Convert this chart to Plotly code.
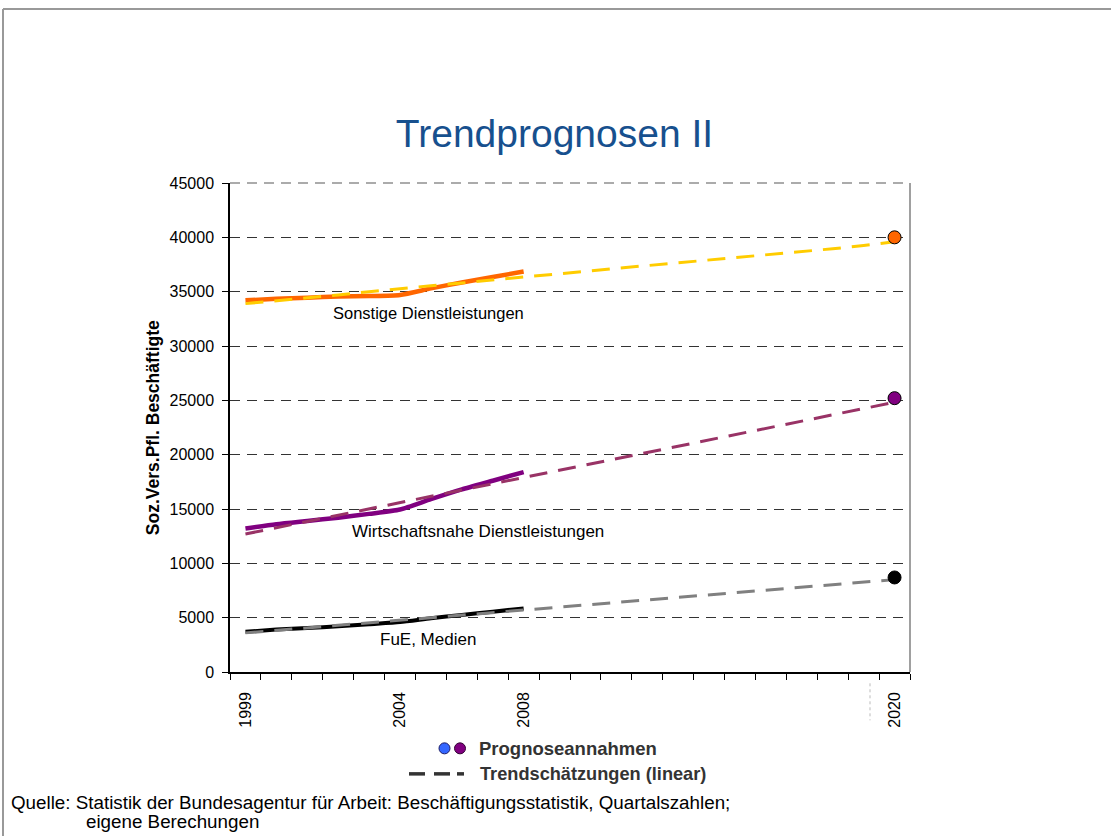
import plotly.graph_objects as go

# ---- data -------------------------------------------------------------
years_actual = [1999, 2000, 2001, 2002, 2003, 2004, 2005, 2006, 2007, 2008]
years_trend = list(range(1999, 2021))
year_forecast = [2020]

sonstige = [34200, 34350, 34450, 34550, 34600, 34700, 35300, 35850, 36350, 36850]
wirtschaft = [13200, 13600, 13900, 14200, 14550, 14950, 15900, 16800, 17600, 18400]
fue = [3700, 3900, 4050, 4200, 4400, 4600, 4950, 5250, 5550, 5850]

sonstige_trend = [33900, 34150, 34450, 34700, 35000, 35300, 35550, 35800, 36100, 36350, 36600,
                  36900, 37150, 37400, 37650, 37900, 38150, 38450, 38700, 38950, 39250, 39600]
wirtschaft_trend = [12700, 13280, 13850, 14430, 15000, 15580, 16160, 16740, 17310, 17890, 18470,
                    19050, 19620, 20200, 20780, 21360, 21930, 22510, 23090, 23670, 24240, 24820]
fue_trend = [3600, 3830, 4070, 4300, 4530, 4770, 5000, 5230, 5470, 5700, 5930,
             6170, 6400, 6630, 6870, 7100, 7330, 7570, 7800, 8030, 8270, 8500]

forecast_sonstige = [40000]
forecast_wirtschaft = [25200]
forecast_fue = [8700]

x_tick_years = [1999, 2004, 2008, 2020]
y_ticks = [0, 5000, 10000, 15000, 20000, 25000, 30000, 35000, 40000, 45000]

# ---- geometry helpers (pixel -> paper) --------------------------------
W, H = 1111, 836
PL, PR, PT, PB = 230, 910, 183, 671.7


def px(x):
    return (x - PL) / (PR - PL)


def py(y):
    return (PB - y) / (PB - PT)


FONT = "Liberation Sans, Arial, sans-serif"

fig = go.Figure()

# actual values (solid)
for ys, col, w in [(sonstige, "#FF6600", 4.5), (wirtschaft, "#800080", 4.5), (fue, "#000000", 4)]:
    fig.add_trace(go.Scatter(x=years_actual, y=ys, mode="lines",
                             line=dict(color=col, width=w, shape="spline", smoothing=0.6),
                             showlegend=False))

# trend lines (dashed), drawn over the actual values
for ys, col in [(sonstige_trend, "#FFCC00"), (wirtschaft_trend, "#993366"), (fue_trend, "#808080")]:
    fig.add_trace(go.Scatter(x=years_trend, y=ys, mode="lines",
                             line=dict(color=col, width=3, dash="18px,11px"),
                             showlegend=False, hoverinfo="skip"))

# forecast assumptions
for ys, col in [(forecast_sonstige, "#FF6600"), (forecast_wirtschaft, "#800080"), (forecast_fue, "#000000")]:
    fig.add_trace(go.Scatter(x=year_forecast, y=ys, mode="markers",
                             marker=dict(color=col, size=13, line=dict(color="#000000", width=1)),
                             showlegend=False))

fig.update_layout(
    width=W, height=H, autosize=False,
    margin=dict(l=PL, r=W - PR, t=PT, b=H - PB, pad=0),
    paper_bgcolor="white", plot_bgcolor="white",
    font=dict(family=FONT, color="#000000"),
    showlegend=False,
    title=dict(text="Trendprognosen II", x=(393 + 716) / 2 / W, xanchor="center",
               y=1 - 133 / H, yanchor="middle",
               font=dict(family=FONT, size=39, color="#17508E")),
)

fig.update_xaxes(
    range=[1998.5, 2020.5], showgrid=False, zeroline=False,
    showline=True, linecolor="#000000", linewidth=1.5,
    tickmode="array", tickvals=x_tick_years, ticktext=[str(v) for v in x_tick_years],
    ticks="", tickangle=-90, ticklabelstandoff=12,
    tickfont=dict(family=FONT, size=16, color="#000000"),
    minor=dict(tickmode="linear", tick0=1998.5, dtick=1, ticks="outside",
               ticklen=6, tickwidth=1, tickcolor="#000000", showgrid=False),
)

fig.update_yaxes(
    range=[0, 45000], tickvals=y_ticks, ticktext=[str(v) for v in y_ticks],
    showgrid=True, gridcolor="#333333", gridwidth=1, griddash="10px,7px",
    zeroline=False, showline=True, linecolor="#000000", linewidth=1.5,
    ticks="outside", ticklen=6, tickcolor="#000000", ticklabelstandoff=5,
    tickfont=dict(family=FONT, size=16, color="#000000"),
)

shapes = [
    # outer frame
    dict(type="line", xref="paper", yref="paper", x0=px(3), x1=px(W + 5), y0=py(9), y1=py(9),
         line=dict(color="#999999", width=2)),
    dict(type="line", xref="paper", yref="paper", x0=px(3), x1=px(3), y0=py(9), y1=py(H + 5),
         line=dict(color="#999999", width=2)),
    # top and right border of the plot area
    dict(type="line", xref="paper", yref="paper", x0=0, x1=1, y0=1, y1=1,
         line=dict(color="#909090", width=1.5, dash="10px,7px")),
    dict(type="line", xref="paper", yref="paper", x0=1, x1=1, y0=0, y1=1,
         line=dict(color="#A0A0A0", width=2)),
    # axis-break mark below 2020
    dict(type="line", xref="paper", yref="paper", x0=px(870), x1=px(870), y0=py(683), y1=py(720),
         line=dict(color="#BBBBBB", width=1, dash="dot")),
    # legend symbols
    dict(type="circle", xref="paper", yref="paper", x0=px(439), x1=px(450), y0=py(742.5), y1=py(753.5),
         fillcolor="#3366FF", line=dict(color="#1A1A66", width=1)),
    dict(type="circle", xref="paper", yref="paper", x0=px(454.5), x1=px(465.5), y0=py(742.5), y1=py(753.5),
         fillcolor="#800080", line=dict(color="#330033", width=1)),
]
for a, b in [(409, 425), (434, 450), (457, 464)]:
    shapes.append(dict(type="line", xref="paper", yref="paper", x0=px(a), x1=px(b),
                       y0=py(773.5), y1=py(773.5), line=dict(color="#333333", width=3.5)))
fig.update_layout(shapes=shapes)

annotations = [
    dict(text="<b>Soz.Vers.Pfl. Beschäftigte</b>", x=px(153), y=py(428), textangle=-90,
         font=dict(family=FONT, size=17.5, color="#000000")),
    dict(text="Sonstige Dienstleistungen", x=px(428), y=py(313),
         font=dict(family=FONT, size=16.5, color="#000000")),
    dict(text="Wirtschaftsnahe Dienstleistungen", x=px(478), y=py(531),
         font=dict(family=FONT, size=17, color="#000000")),
    dict(text="FuE, Medien", x=px(428), y=py(639),
         font=dict(family=FONT, size=17, color="#000000")),
    dict(text="<b>Prognoseannahmen</b>", x=px(477), y=py(748), xanchor="left",
         font=dict(family=FONT, size=18.5, color="#333333")),
    dict(text="<b>Trendschätzungen (linear)</b>", x=px(478), y=py(773.5), xanchor="left",
         font=dict(family=FONT, size=18.2, color="#333333")),
    dict(text="Quelle: Statistik der Bundesagentur für Arbeit: Beschäftigungsstatistik, Quartalszahlen;",
         x=px(9), y=py(802), xanchor="left",
         font=dict(family=FONT, size=18.8, color="#000000")),
    dict(text="eigene Berechungen", x=px(84), y=py(821), xanchor="left",
         font=dict(family=FONT, size=18.8, color="#000000")),
]
for a in annotations:
    a.setdefault("xref", "paper")
    a.setdefault("yref", "paper")
    a.setdefault("showarrow", False)
    a.setdefault("xanchor", "center")
    a.setdefault("yanchor", "middle")
fig.update_layout(annotations=annotations)

fig.write_html("out.html")
